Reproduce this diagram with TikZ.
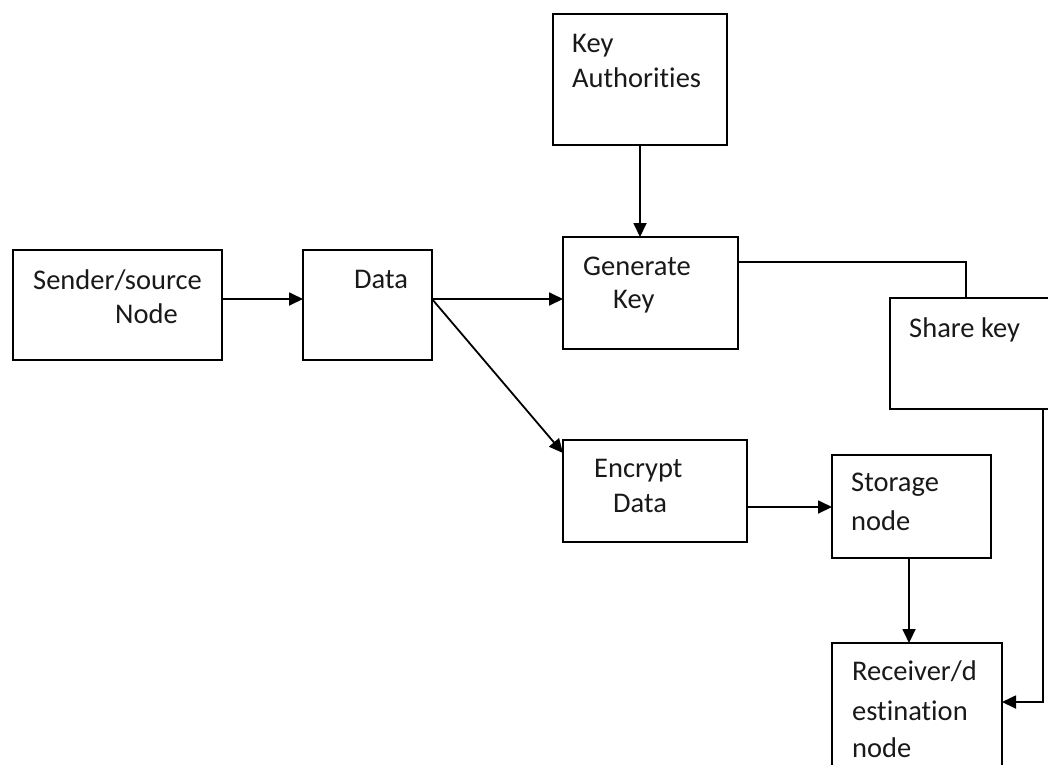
\documentclass[tikz,border=0pt]{standalone}
\usepackage{fontspec}
\setmainfont{Carlito}[Ligatures={NoCommon}]
\usetikzlibrary{arrows.meta}
\begin{document}
\begin{tikzpicture}[x=1pt,y=-1pt,
  box/.style={draw=black,line width=1.8pt,rectangle,inner sep=0pt,outer sep=0pt},
  lbl/.style={anchor=base west,inner sep=0pt,font=\fontsize{28.5}{34}\selectfont,text=black!90},
  conn/.style={line width=1.8pt},
  arr/.style={conn,-{Triangle[length=14pt,width=13pt]}}]
\clip (0,0) rectangle (1048,764);
\fill[white] (0,0) rectangle (1048,764);
% boxes
\node[box,minimum width=174pt,minimum height=131pt] (ka) at (640,79.5) {};
\node[box,minimum width=175pt,minimum height=112pt] (gen) at (650.5,293) {};
\node[box,minimum width=209pt,minimum height=110pt] (snd) at (117.5,305) {};
\node[box,minimum width=129pt,minimum height=110pt] (data) at (367.5,305) {};
\node[box,minimum width=160pt,minimum height=111pt] (share) at (970,353.5) {};
\node[box,minimum width=184pt,minimum height=102pt] (enc) at (655,491) {};
\node[box,minimum width=159pt,minimum height=103pt] (stor) at (911.5,506.5) {};
\node[box,minimum width=170pt,minimum height=137pt] (recv) at (917,711.5) {};
% texts
\node[lbl] (tka1) at (572,52) {Key};
\node[lbl] (tka2) at (572,87) {Authorities};
\node[lbl] (tgen1) at (583,275) {Generate};
\node[lbl] (tgen2) at (613,308) {Key};
\node[lbl] (tsnd1) at (33,289) {Sender/source};
\node[lbl] (tsnd2) at (115,323) {Node};
\node[lbl] (tdata) at (354,288) {Data};
\node[lbl] (tshare) at (909,337) {Share key};
\node[lbl] (tenc1) at (594,477) {Encrypt};
\node[lbl] (tenc2) at (613,512) {Data};
\node[lbl] (tstor1) at (851,491) {Storage};
\node[lbl] (tstor2) at (851,530) {node};
\node[lbl] (trecv1) at (852,680) {Receiver/d};
\node[lbl] (trecv2) at (852,720) {estination};
\node[lbl] (trecv3) at (852,757) {node};
% connectors
\draw[arr] ([yshift=6pt]snd.east) -- ([yshift=6pt]data.west);
\draw[arr] ([yshift=6pt]data.east) -- ([yshift=6pt]data.east -| gen.west);
\draw[arr] ([yshift=6pt]data.east) -- ([yshift=-13pt]enc.north west);
\draw[arr] (ka.south) -- (ka.south |- gen.north);
\draw[conn] ([yshift=31pt]gen.east) -| ([xshift=-4pt]share.north);
\draw[arr] ([xshift=-7pt]share.south east) |- ([yshift=9.5pt]recv.east);
\draw[arr] ([yshift=-16pt]enc.east) -- ([yshift=-16pt]enc.east -| stor.west);
\draw[arr] ([xshift=-2.5pt]stor.south) -- ([xshift=-2.5pt]stor.south |- recv.north);
\end{tikzpicture}
\end{document}
